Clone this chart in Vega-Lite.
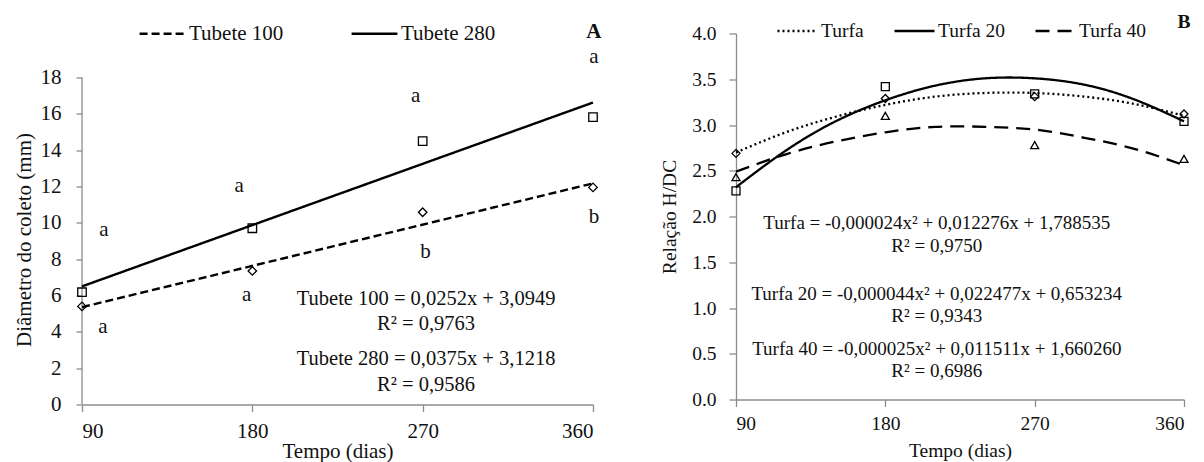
{
  "$schema": "https://vega.github.io/schema/vega-lite/v6.json",
  "background": "white",
  "padding": {"left": 13, "top": 8.5, "right": 0, "bottom": 0},
  "spacing": 57,
  "config": {
    "view": {"stroke": null},
    "font": "Liberation Serif, Times New Roman, DejaVu Serif, serif",
    "text": {"font": "Liberation Serif, Times New Roman, DejaVu Serif, serif"},
    "axis": {
      "grid": false,
      "domainColor": "#8c8c8c",
      "tickColor": "#8c8c8c",
      "domainWidth": 1.3,
      "tickWidth": 1.3,
      "labelColor": "#111111",
      "titleColor": "#111111",
      "labelFont": "Liberation Serif, Times New Roman, DejaVu Serif, serif",
      "titleFont": "Liberation Serif, Times New Roman, DejaVu Serif, serif",
      "titleFontWeight": "normal",
      "labelOverlap": false
    },
    "legend": {
      "labelFont": "Liberation Serif, Times New Roman, DejaVu Serif, serif",
      "labelColor": "#111111",
      "padding": 0,
      "symbolType": "stroke",
      "symbolStrokeColor": "black",
      "symbolStrokeWidth": 2.4,
      "labelOffset": 2
    }
  },
  "resolve": {
    "scale": {"x": "independent", "y": "independent", "strokeDash": "independent", "shape": "independent"},
    "legend": {"strokeDash": "independent", "shape": "independent"}
  },
  "hconcat": [
    {
      "width": 511,
      "height": 371,
      "layer": [
        {
          "data": {"values": [
            {"dias": 90, "d0": 0, "d1": 18}
          ]},
          "mark": {"type": "rule", "color": "#8c8c8c", "strokeWidth": 1.3},
          "encoding": {
            "x": {"field": "dias", "type": "quantitative"},
            "y": {"field": "d0", "type": "quantitative"},
            "y2": {"field": "d1"}
          }
        },
        {
          "data": {"values": [
            {"dias": 90, "diametro": 5.36, "tubete": "Tubete 100"},
            {"dias": 360, "diametro": 12.17, "tubete": "Tubete 100"},
            {"dias": 90, "diametro": 6.5, "tubete": "Tubete 280"},
            {"dias": 360, "diametro": 16.62, "tubete": "Tubete 280"}
          ]},
          "mark": {"type": "line", "color": "black", "strokeWidth": 2.4},
          "encoding": {
            "x": {"field": "dias", "type": "quantitative",
              "scale": {"domain": [90, 360], "nice": false, "zero": false},
              "axis": {"values": [90, 180, 270, 360], "title": "Tempo (dias)", "labelFontSize": 21, "titleFontSize": 21, "tickSize": 7, "labelPadding": 9, "titlePadding": -1}},
            "y": {"field": "diametro", "type": "quantitative",
              "scale": {"domain": [0, 20.42], "nice": false},
              "axis": {"values": [0, 2, 4, 6, 8, 10, 12, 14, 16, 18], "domain": false, "title": "Diâmetro do coleto (mm)", "titleY": 206, "labelFontSize": 21, "titleFontSize": 21, "tickSize": 6, "labelPadding": 15, "titlePadding": 6}},
            "strokeDash": {"field": "tubete", "type": "nominal",
              "scale": {"domain": ["Tubete 100", "Tubete 280"], "range": [[8, 4], [1, 0]]},
              "legend": {"title": null, "orient": "none", "legendX": 56, "legendY": -24.5, "direction": "horizontal", "labelFontSize": 21, "symbolSize": 2100, "columnPadding": 62}}
          }
        },
        {
          "data": {"values": [
            {"dias": 90, "diametro": 5.4, "marcador": "losango"},
            {"dias": 180, "diametro": 7.35, "marcador": "losango"},
            {"dias": 270, "diametro": 10.58, "marcador": "losango"},
            {"dias": 360, "diametro": 11.95, "marcador": "losango"},
            {"dias": 90, "diametro": 6.18, "marcador": "quadrado"},
            {"dias": 180, "diametro": 9.7, "marcador": "quadrado"},
            {"dias": 270, "diametro": 14.5, "marcador": "quadrado"},
            {"dias": 360, "diametro": 15.82, "marcador": "quadrado"}
          ]},
          "mark": {"type": "point", "filled": false, "color": "black", "strokeWidth": 1.3, "opacity": 1, "size": 72},
          "encoding": {
            "x": {"field": "dias", "type": "quantitative"},
            "y": {"field": "diametro", "type": "quantitative"},
            "shape": {"field": "marcador", "type": "nominal",
              "scale": {"domain": ["losango", "quadrado"], "range": ["diamond", "square"]},
              "legend": null}
          }
        },
        {
          "data": {"values": [
            {"dias": 101.6, "diametro": 9.6, "label": "a"},
            {"dias": 101, "diametro": 4.25, "label": "a"},
            {"dias": 173, "diametro": 12.0, "label": "a"},
            {"dias": 177, "diametro": 6.0, "label": "a"},
            {"dias": 266.3, "diametro": 17.0, "label": "a"},
            {"dias": 271.5, "diametro": 8.4, "label": "b"},
            {"dias": 360.5, "diametro": 19.1, "label": "a"},
            {"dias": 360.5, "diametro": 10.3, "label": "b"}
          ]},
          "mark": {"type": "text", "fontSize": 21, "color": "#111111", "align": "center", "baseline": "middle"},
          "encoding": {
            "x": {"field": "dias", "type": "quantitative"},
            "y": {"field": "diametro", "type": "quantitative"},
            "text": {"field": "label"}
          }
        },
        {
          "data": {"values": [
            {"dias": 360.5, "diametro": 20.5, "label": "A"}
          ]},
          "mark": {"type": "text", "fontSize": 21, "fontWeight": "bold", "color": "#111111", "align": "center", "baseline": "middle"},
          "encoding": {
            "x": {"field": "dias", "type": "quantitative"},
            "y": {"field": "diametro", "type": "quantitative"},
            "text": {"field": "label"}
          }
        },
        {
          "data": {"values": [
            {"dias": 271.8, "diametro": 5.82, "label": "Tubete 100 = 0,0252x + 3,0949"},
            {"dias": 271.8, "diametro": 4.44, "label": "R² = 0,9763"},
            {"dias": 271.8, "diametro": 2.51, "label": "Tubete 280 = 0,0375x + 3,1218"},
            {"dias": 271.8, "diametro": 1.05, "label": "R² = 0,9586"}
          ]},
          "mark": {"type": "text", "fontSize": 20.5, "color": "#111111", "align": "center", "baseline": "middle"},
          "encoding": {
            "x": {"field": "dias", "type": "quantitative"},
            "y": {"field": "diametro", "type": "quantitative"},
            "text": {"field": "label"}
          }
        }
      ]
    },
    {
      "width": 448,
      "height": 366,
      "layer": [
        {
          "data": {"values": [
            {"dias": 90, "relacao": 2.70, "turfa": "Turfa"},
            {"dias": 120, "relacao": 2.92, "turfa": "Turfa"},
            {"dias": 150, "relacao": 3.09, "turfa": "Turfa"},
            {"dias": 180, "relacao": 3.22, "turfa": "Turfa"},
            {"dias": 210, "relacao": 3.31, "turfa": "Turfa"},
            {"dias": 240, "relacao": 3.35, "turfa": "Turfa"},
            {"dias": 270, "relacao": 3.35, "turfa": "Turfa"},
            {"dias": 300, "relacao": 3.31, "turfa": "Turfa"},
            {"dias": 330, "relacao": 3.23, "turfa": "Turfa"},
            {"dias": 360, "relacao": 3.10, "turfa": "Turfa"},
            {"dias": 90, "relacao": 2.32, "turfa": "Turfa 20"},
            {"dias": 120, "relacao": 2.72, "turfa": "Turfa 20"},
            {"dias": 150, "relacao": 3.04, "turfa": "Turfa 20"},
            {"dias": 180, "relacao": 3.27, "turfa": "Turfa 20"},
            {"dias": 210, "relacao": 3.43, "turfa": "Turfa 20"},
            {"dias": 240, "relacao": 3.51, "turfa": "Turfa 20"},
            {"dias": 270, "relacao": 3.51, "turfa": "Turfa 20"},
            {"dias": 300, "relacao": 3.44, "turfa": "Turfa 20"},
            {"dias": 330, "relacao": 3.28, "turfa": "Turfa 20"},
            {"dias": 360, "relacao": 3.04, "turfa": "Turfa 20"},
            {"dias": 90, "relacao": 2.49, "turfa": "Turfa 40"},
            {"dias": 120, "relacao": 2.68, "turfa": "Turfa 40"},
            {"dias": 150, "relacao": 2.82, "turfa": "Turfa 40"},
            {"dias": 180, "relacao": 2.92, "turfa": "Turfa 40"},
            {"dias": 210, "relacao": 2.98, "turfa": "Turfa 40"},
            {"dias": 240, "relacao": 2.98, "turfa": "Turfa 40"},
            {"dias": 270, "relacao": 2.95, "turfa": "Turfa 40"},
            {"dias": 300, "relacao": 2.86, "turfa": "Turfa 40"},
            {"dias": 330, "relacao": 2.74, "turfa": "Turfa 40"},
            {"dias": 360, "relacao": 2.56, "turfa": "Turfa 40"}
          ]},
          "mark": {"type": "line", "color": "black", "strokeWidth": 2.3, "interpolate": "natural"},
          "encoding": {
            "x": {"field": "dias", "type": "quantitative",
              "scale": {"domain": [90, 360], "nice": false, "zero": false},
              "axis": {"values": [90, 180, 270, 360], "title": "Tempo (dias)", "labelFontSize": 19.5, "titleFontSize": 19.5, "tickSize": 7, "labelPadding": 8, "titlePadding": 8}},
            "y": {"field": "relacao", "type": "quantitative",
              "scale": {"domain": [0, 4], "nice": false},
              "axis": {"values": [0, 0.5, 1, 1.5, 2, 2.5, 3, 3.5, 4], "format": ".1f", "title": "Relação H/DC", "labelFontSize": 19.5, "titleFontSize": 19.5, "tickSize": 7, "labelPadding": 13, "titlePadding": 12}},
            "strokeDash": {"field": "turfa", "type": "nominal",
              "scale": {"domain": ["Turfa", "Turfa 20", "Turfa 40"], "range": [[2, 3], [1, 0], [14, 8]]},
              "legend": {"title": null, "orient": "none", "legendX": 40, "legendY": -24, "direction": "horizontal", "labelFontSize": 19.5, "symbolSize": 1600, "columnPadding": 25}}
          }
        },
        {
          "data": {"values": [
            {"dias": 90, "relacao": 2.69, "marcador": "losango"},
            {"dias": 180, "relacao": 3.29, "marcador": "losango"},
            {"dias": 270, "relacao": 3.31, "marcador": "losango"},
            {"dias": 360, "relacao": 3.12, "marcador": "losango"},
            {"dias": 90, "relacao": 2.28, "marcador": "quadrado"},
            {"dias": 180, "relacao": 3.42, "marcador": "quadrado"},
            {"dias": 270, "relacao": 3.34, "marcador": "quadrado"},
            {"dias": 360, "relacao": 3.04, "marcador": "quadrado"},
            {"dias": 90, "relacao": 2.43, "marcador": "triangulo"},
            {"dias": 180, "relacao": 3.10, "marcador": "triangulo"},
            {"dias": 270, "relacao": 2.78, "marcador": "triangulo"},
            {"dias": 360, "relacao": 2.63, "marcador": "triangulo"}
          ]},
          "mark": {"type": "point", "filled": false, "color": "black", "strokeWidth": 1.3, "opacity": 1, "size": 64},
          "encoding": {
            "x": {"field": "dias", "type": "quantitative"},
            "y": {"field": "relacao", "type": "quantitative"},
            "shape": {"field": "marcador", "type": "nominal",
              "scale": {"domain": ["losango", "quadrado", "triangulo"], "range": ["diamond", "square", "triangle-up"]},
              "legend": null}
          }
        },
        {
          "data": {"values": [
            {"dias": 360, "relacao": 4.13, "label": "B"}
          ]},
          "mark": {"type": "text", "fontSize": 19.5, "fontWeight": "bold", "color": "#111111", "align": "center", "baseline": "middle"},
          "encoding": {
            "x": {"field": "dias", "type": "quantitative"},
            "y": {"field": "relacao", "type": "quantitative"},
            "text": {"field": "label"}
          }
        },
        {
          "data": {"values": [
            {"dias": 211, "relacao": 1.93, "label": "Turfa = -0,000024x² + 0,012276x + 1,788535"},
            {"dias": 211, "relacao": 1.68, "label": "R² = 0,9750"},
            {"dias": 211, "relacao": 1.155, "label": "Turfa 20 = -0,000044x² + 0,022477x + 0,653234"},
            {"dias": 211, "relacao": 0.918, "label": "R² = 0,9343"},
            {"dias": 211, "relacao": 0.554, "label": "Turfa 40 = -0,000025x² + 0,011511x + 1,660260"},
            {"dias": 211, "relacao": 0.31, "label": "R² = 0,6986"}
          ]},
          "mark": {"type": "text", "fontSize": 19, "color": "#111111", "align": "center", "baseline": "middle"},
          "encoding": {
            "x": {"field": "dias", "type": "quantitative"},
            "y": {"field": "relacao", "type": "quantitative"},
            "text": {"field": "label"}
          }
        }
      ]
    }
  ]
}
